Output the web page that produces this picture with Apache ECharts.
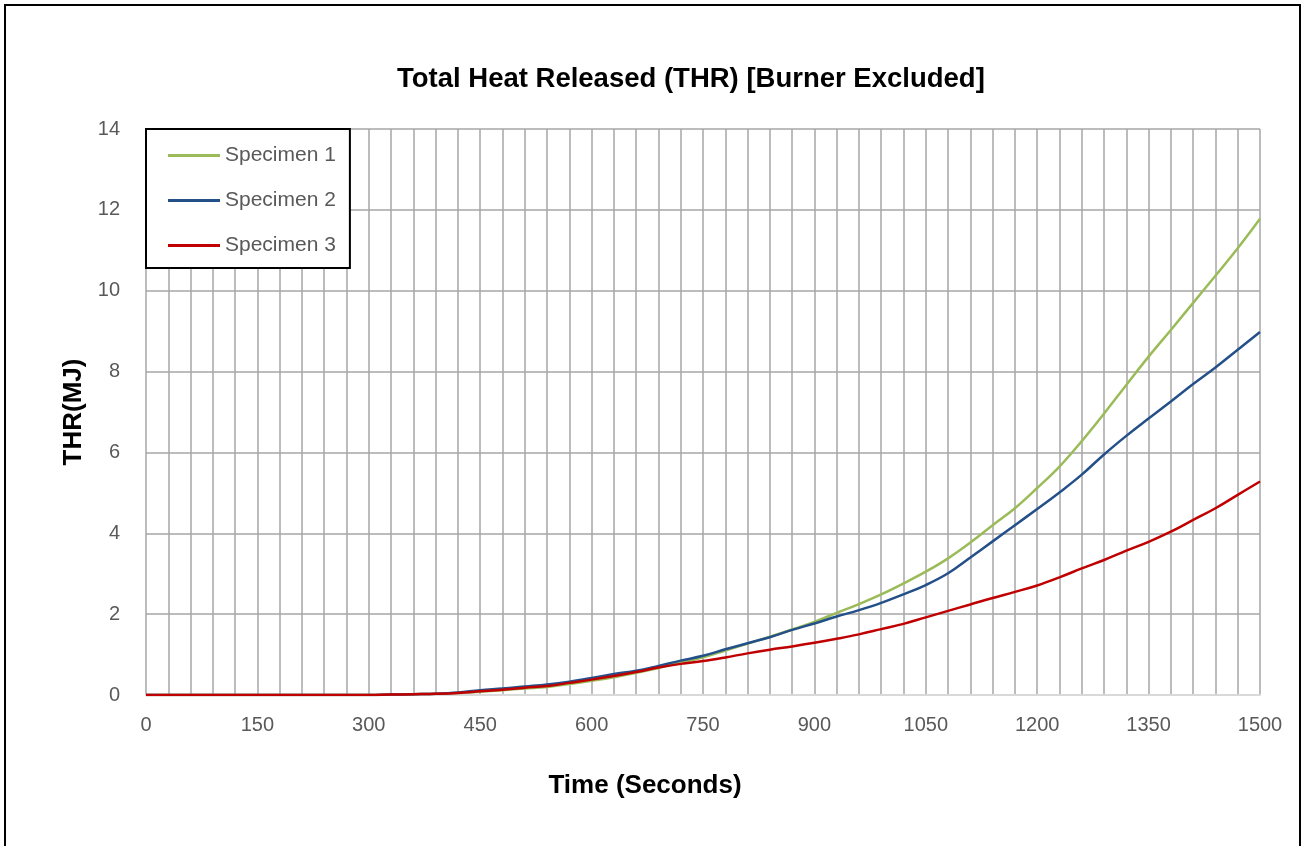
<!DOCTYPE html>
<html>
<head>
<meta charset="utf-8">
<script src="https://cdn.jsdelivr.net/npm/echarts@6/dist/echarts.min.js"></script>
<style>
html,body{margin:0;padding:0;background:#fff;}
#chart{width:1306px;height:846px;}
</style>
</head>
<body>
<div id="chart"></div>
<script>
const times = [0,30,60,90,120,150,180,210,240,270,300,330,360,390,420,450,480,510,540,570,600,630,660,690,720,750,780,810,840,870,900,930,960,990,1020,1050,1080,1110,1140,1170,1200,1230,1260,1290,1320,1350,1380,1410,1440,1470,1500];
const specimen1 = [0,0,0,0,0,0,0,0,0,0,0,0.01,0.02,0.03,0.05,0.08,0.12,0.16,0.20,0.27,0.35,0.44,0.55,0.67,0.80,0.93,1.10,1.27,1.44,1.62,1.81,2.03,2.25,2.49,2.76,3.05,3.38,3.77,4.20,4.62,5.12,5.65,6.28,6.96,7.67,8.37,9.03,9.70,10.37,11.05,11.78];
const specimen2 = [0,0,0,0,0,0,0,0,0,0,0,0.01,0.02,0.03,0.06,0.12,0.16,0.21,0.26,0.33,0.42,0.52,0.60,0.72,0.85,0.97,1.13,1.28,1.43,1.61,1.77,1.94,2.10,2.28,2.49,2.72,3.01,3.40,3.80,4.20,4.60,5.01,5.45,5.95,6.41,6.84,7.26,7.69,8.10,8.54,8.98];
const specimen3 = [0,0,0,0,0,0,0,0,0,0,0,0.01,0.02,0.03,0.05,0.09,0.13,0.18,0.22,0.30,0.38,0.47,0.57,0.68,0.77,0.84,0.93,1.03,1.12,1.20,1.29,1.39,1.50,1.63,1.76,1.92,2.08,2.24,2.40,2.55,2.71,2.91,3.13,3.34,3.57,3.79,4.04,4.33,4.62,4.95,5.28];
const seriesNames = ['Specimen 1','Specimen 2','Specimen 3'];
const seriesColors = ['#9bbb59','#24508a','#c00000'];

const pair = (ys) => times.map((t, i) => [t, ys[i]]);
const FONT = 'Liberation Sans';

const chart = echarts.init(document.getElementById('chart'), null, {renderer: 'canvas'});
chart.setOption({
  animation: false,
  backgroundColor: '#fff',
  textStyle: {fontFamily: FONT},
  title: {
    text: 'Total Heat Released (THR) [Burner Excluded]',
    left: 392, top: 60,
    textStyle: {fontFamily: FONT, fontWeight: 'bold', fontSize: 27.5, color: '#000'}
  },
  graphic: [{
    type: 'rect', silent: true, z: -1,
    shape: {x: 5, y: 5, width: 1295, height: 900},
    style: {fill: 'none', stroke: '#000', lineWidth: 2}
  }],
  grid: {left: 146, right: 46, top: 129, bottom: 151, containLabel: false},
  legend: {
    orient: 'vertical',
    left: 146, top: 129,
    backgroundColor: '#fff',
    borderColor: '#000', borderWidth: 2,
    padding: [16, 14, 12, 22],
    itemGap: 24,
    itemWidth: 52, itemHeight: 3,
    icon: 'rect',
    textStyle: {fontFamily: FONT, fontSize: 21, color: '#595959'},
    data: seriesNames
  },
  xAxis: {
    type: 'value', min: 0, max: 1500, interval: 150,
    name: 'Time (Seconds)', nameLocation: 'middle', nameGap: 78,
    nameTextStyle: {fontFamily: FONT, fontWeight: 'bold', fontSize: 26, color: '#000', padding: [0, 116, 0, 0]},
    axisLine: {show: true, lineStyle: {color: '#d9d9d9', width: 2}},
    axisTick: {show: false},
    axisLabel: {margin: 20, fontSize: 20, color: '#595959', fontFamily: FONT, formatter: (v) => String(v)},
    splitLine: {show: true, lineStyle: {color: '#a6a6a6', width: 1.5}},
    minorTick: {show: false, splitNumber: 5},
    minorSplitLine: {show: true, lineStyle: {color: '#a6a6a6', width: 1.5}}
  },
  yAxis: {
    type: 'value', min: 0, max: 14, interval: 2,
    name: 'THR(MJ)', nameLocation: 'middle', nameGap: 56, nameRotate: 90,
    nameTextStyle: {fontFamily: FONT, fontWeight: 'bold', fontSize: 26, color: '#000'},
    axisLine: {show: false},
    axisTick: {show: false},
    axisLabel: {margin: 26, fontSize: 20, color: '#595959', fontFamily: FONT},
    splitLine: {show: true, lineStyle: {color: '#a6a6a6', width: 1.5}}
  },
  series: [
    {name: seriesNames[0], type: 'line', data: pair(specimen1), smooth: 0.4, showSymbol: false, lineStyle: {color: seriesColors[0], width: 2.5}, itemStyle: {color: seriesColors[0]}, z: 3},
    {name: seriesNames[1], type: 'line', data: pair(specimen2), smooth: 0.4, showSymbol: false, lineStyle: {color: seriesColors[1], width: 2.5}, itemStyle: {color: seriesColors[1]}, z: 4},
    {name: seriesNames[2], type: 'line', data: pair(specimen3), smooth: 0.4, showSymbol: false, lineStyle: {color: seriesColors[2], width: 2.5}, itemStyle: {color: seriesColors[2]}, z: 5}
  ]
});
</script>
</body>
</html>
